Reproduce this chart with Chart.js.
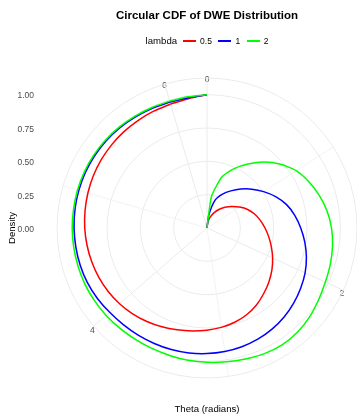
<!DOCTYPE html>
<html lang="en">
<head>
<meta charset="UTF-8" />
<title>Circular CDF of DWE Distribution</title>
<script src="https://cdn.jsdelivr.net/npm/chart.js@4"></script>
<style>
  body { margin: 0; background: #fff; font-family: 'Liberation Sans', Arial, sans-serif; }
  #wrap { position: relative; width: 357px; height: 416px; }
  #legend {
    position: absolute; top: 35px; left: 57px; width: 300px; height: 12px;
    display: flex; justify-content: center; align-items: center; color: #000;
  }
  #legend span { line-height: 12px; }
  #legend .ttl { font-size: 9.6px; margin-right: 6px; }
  #legend .key { display: inline-block; width: 13px; height: 1.5px; margin-right: 4px; }
  #legend .lab { font-size: 8.5px; margin-right: 6.5px; }
  #legend .lab:last-child { margin-right: 0; }
</style>
</head>
<body>
<div id="wrap">
  <canvas id="chart" width="357" height="416"></canvas>
  <div id="legend"></div>
</div>

<script>
  // theta of each spoke (radians), 44 even steps round the circle
  const thetaRad = [0.00, 0.14, 0.29, 0.43, 0.57, 0.71, 0.86, 1.00, 1.14, 1.29, 1.43,
                    1.57, 1.71, 1.86, 2.00, 2.14, 2.29, 2.43, 2.57, 2.71, 2.86, 3.00,
                    3.14, 3.28, 3.43, 3.57, 3.71, 3.86, 4.00, 4.14, 4.28, 4.43, 4.57,
                    4.71, 4.86, 5.00, 5.14, 5.28, 5.43, 5.57, 5.71, 5.86, 6.00, 6.14];
  const thetaTicks = [0, 2, 4, 6];
  const thetaMinor = [1, 3, 5];
  const densityTicks = [0, 0.25, 0.5, 0.75, 1];

  const lambdaLabels = ['0.5', '1', '2'];
  const lambdaColors = ['#ff0000', '#0000ff', '#00ff00'];

  // CDF at each theta above
  const cdfLambda05 = [0, 0.045, 0.085, 0.125, 0.165, 0.205, 0.247, 0.290, 0.335, 0.372,
                       0.404, 0.435, 0.468, 0.503, 0.541, 0.579, 0.615, 0.650, 0.686, 0.715,
                       0.737, 0.753, 0.766, 0.780, 0.796, 0.815, 0.834, 0.852, 0.868, 0.881,
                       0.892, 0.901, 0.909, 0.917, 0.924, 0.931, 0.938, 0.944, 0.949, 0.954,
                       0.958, 0.963, 0.969, 0.980];
  const cdfLambda1 = [0, 0.10, 0.22, 0.28, 0.331, 0.386, 0.445, 0.505, 0.566, 0.622,
                      0.665, 0.703, 0.741, 0.777, 0.809, 0.835, 0.860, 0.883, 0.902, 0.917,
                      0.928, 0.936, 0.942, 0.947, 0.950, 0.952, 0.955, 0.959, 0.966, 0.977,
                      0.986, 0.991, 0.994, 0.997, 1.000, 1.002, 1.003, 1.002, 1.000, 0.996,
                      0.991, 0.987, 0.985, 0.987];
  const cdfLambda2 = [0, 0.24, 0.40, 0.49, 0.570, 0.654, 0.730, 0.795, 0.838, 0.876,
                      0.909, 0.934, 0.951, 0.964, 0.976, 0.995, 1.018, 1.035, 1.042, 1.036,
                      1.024, 1.014, 1.007, 1.002, 0.996, 0.993, 0.993, 0.996, 1.001, 1.005,
                      1.008, 1.009, 1.010, 1.011, 1.011, 1.012, 1.012, 1.010, 1.007, 1.003,
                      0.998, 0.994, 0.992, 0.994];
  const cdfAt2Pi = [1, 1, 1];   // value at theta = 2*pi (same spoke as 0)

  const rOuter = 1.125;          // ggplot's outer ring
  const labelPad = { 0: -6.8, 2: -4.4, 4: -1.6, 6: -7.2 };

  Chart.defaults.font.family = "'Liberation Sans', Arial, sans-serif";

  const series = [cdfLambda05, cdfLambda1, cdfLambda2];
  const datasets = [];
  series.forEach((cdf, k) => {
    const last = cdf.length - 1;
    const style = {
      borderColor: lambdaColors[k], borderWidth: 1.5, pointRadius: 0,
      fill: false, clip: false, tension: 0.2, order: series.length - k
    };
    // a radar line closes back to index 0, so cut it before the last spoke...
    datasets.push(Object.assign({}, style, {
      label: lambdaLabels[k],
      data: cdf.map((v, i) => i === last ? null : v)
    }));
    // ...and draw the last bit up to theta = 2*pi as a separate piece
    datasets.push(Object.assign({}, style, {
      label: lambdaLabels[k] + ' end',
      data: cdf.map((v, i) => i === 0 ? cdfAt2Pi[k] : (i >= last - 1 ? v : null))
    }));
  });

  new Chart(document.getElementById('chart'), {
    type: 'radar',
    data: { labels: thetaRad, datasets: datasets },
    options: {
      responsive: false,
      animation: false,
      devicePixelRatio: 1,
      events: [],
      layout: { padding: 0 },
      plugins: {
        legend: { display: false },
        tooltip: { enabled: false },
        title: {
          display: true,
          text: 'Circular CDF of DWE Distribution',
          color: '#000',
          fullSize: false,
          font: { size: 11.5, weight: 'bold' },
          padding: { top: 9.4, bottom: 49.8 }
        }
      },
      scales: {
        r: {
          min: 0,
          max: rOuter,
          afterBuildTicks: s => { s.ticks = densityTicks.concat([rOuter]).map(v => ({ value: v })); },
          ticks: { display: false },
          grid: { circular: true, color: '#ebebeb', lineWidth: 1 },
          angleLines: {
            color: '#ebebeb',
            lineWidth: ctx => {
              const t = thetaRad[ctx.index];
              if (thetaTicks.includes(t)) return 1;
              if (thetaMinor.includes(t)) return 0.6;
              return 0;
            }
          },
          pointLabels: {
            display: true,
            callback: v => thetaTicks.includes(v) ? String(v) : '',
            padding: ctx => {
              const p = labelPad[thetaRad[ctx.index]];
              return p === undefined ? -40 : p;
            },
            color: '#4d4d4d',
            font: { size: 8.5 }
          }
        },
        x: {
          type: 'linear',
          position: 'bottom',
          ticks: { display: false },
          grid: { display: false },
          border: { display: false },
          title: {
            display: true, text: 'Theta (radians)', color: '#000',
            font: { size: 9.6 }, padding: { top: 0, bottom: 0.7 }
          },
          afterFit: s => { s.height = 33; }
        },
        y: {
          type: 'linear',
          position: 'left',
          min: -1.142,
          max: 1.172,
          afterBuildTicks: s => { s.ticks = densityTicks.map(v => ({ value: v })); },
          ticks: {
            padding: 15, color: '#4d4d4d', font: { size: 8.5 },
            callback: v => v.toFixed(2)
          },
          grid: { display: false },
          border: { display: false },
          title: {
            display: true, text: 'Density', color: '#000',
            font: { size: 9.6 }, padding: { top: 6.2, bottom: 0 }
          },
          afterFit: s => { s.width = 57; }
        }
      }
    }
  });

  // legend laid out like ggplot's: title inline, then key + label
  const legendEl = document.getElementById('legend');
  legendEl.innerHTML = '<span class="ttl">lambda</span>' + lambdaLabels.map((l, k) =>
    '<span class="key" style="background:' + lambdaColors[k] + '"></span><span class="lab">' + l + '</span>'
  ).join('');
</script>
</body>
</html>
